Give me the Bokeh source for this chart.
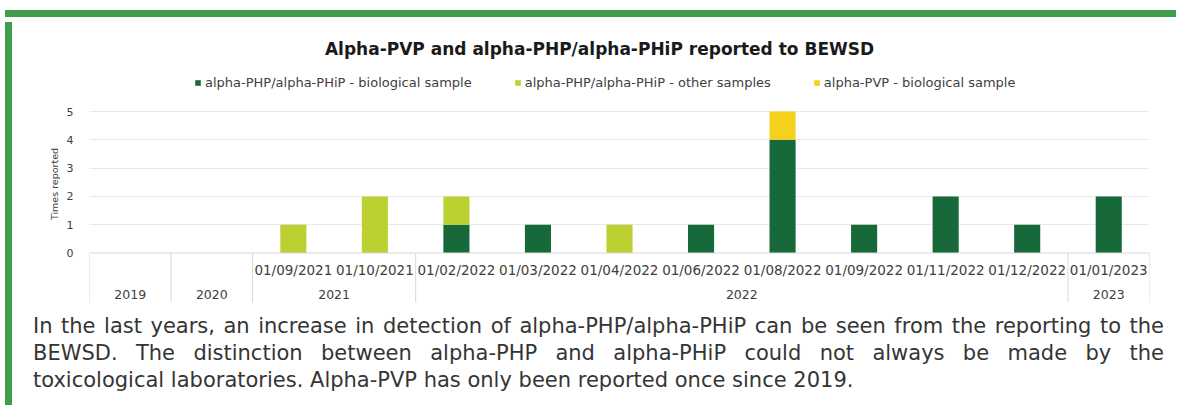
from bokeh.plotting import figure
from bokeh.models import (ColumnDataSource, FactorRange, Range1d, FixedTicker,
                          Legend, LegendItem, Label, Div)
from bokeh.layouts import column, row
from bokeh.embed import file_html
from bokeh.resources import INLINE
from bokeh.core.properties import value

# ---------------- data ----------------
years = ["2019", "2020", "2021", "2021", "2022", "2022", "2022", "2022",
         "2022", "2022", "2022", "2022", "2023"]
dates = ["", "", "01/09/2021", "01/10/2021", "01/02/2022", "01/03/2022",
         "01/04/2022", "01/06/2022", "01/08/2022", "01/09/2022", "01/11/2022",
         "01/12/2022", "01/01/2023"]
php_bio = [0, 0, 0, 0, 1, 1, 0, 1, 4, 1, 2, 1, 2]
php_other = [0, 0, 1, 2, 1, 0, 1, 0, 0, 0, 0, 0, 0]
pvp_bio = [0, 0, 0, 0, 0, 0, 0, 0, 1, 0, 0, 0, 0]
series_labels = ["alpha-PHP/alpha-PHiP - biological sample",
                 "alpha-PHP/alpha-PHiP - other samples",
                 "alpha-PVP - biological sample"]
y_ticks = [0, 1, 2, 3, 4, 5]
title_text = "Alpha-PVP and alpha-PHP/alpha-PHiP reported to BEWSD"
y_label = "Times reported"
paragraph_lines = [
    "In the last years, an increase in detection of alpha-PHP/alpha-PHiP can be seen from the reporting to the",
    "BEWSD. The distinction between alpha-PHP and alpha-PHiP could not always be made by the",
    "toxicological laboratories. Alpha-PVP has only been reported once since 2019.",
]

# ---------------- styles ----------------
GREEN_FRAME = "#3f9d4b"
C_BIO = "#17693a"
C_OTHER = "#bdd031"
C_PVP = "#f4d21c"
TXT = "#404040"
FONT = "DejaVu Sans"

factors = list(zip(years, dates))
src = ColumnDataSource(dict(x=factors, php_bio=php_bio, php_other=php_other,
                            pvp_bio=pvp_bio, date=dates))

FIG_W, FIG_H = 1164, 290
x_range = FactorRange(factors=factors, group_padding=0, subgroup_padding=0,
                      factor_padding=0, range_padding=0)
y_range = Range1d(-1.926, 8.322)

p = figure(width=FIG_W, height=FIG_H, x_range=x_range, y_range=y_range,
           output_backend="svg", toolbar_location=None, x_axis_location=None,
           min_border_left=72, min_border_right=32, min_border_top=0,
           min_border_bottom=0, background_fill_color="white",
           border_fill_color="white", outline_line_color=None)
p.title.text = ""

# y axis
yax = p.yaxis[0]
yax.ticker = FixedTicker(ticks=y_ticks)
yax.axis_line_color = None
yax.major_tick_line_color = None
yax.minor_tick_line_color = None
yax.major_label_text_font = FONT
yax.major_label_text_font_size = "11px"
yax.major_label_text_color = TXT
yax.major_label_standoff = 10

p.xgrid.visible = False
p.ygrid.ticker = FixedTicker(ticks=[t for t in y_ticks if t > 0])
p.ygrid.grid_line_color = "#e9e9e9"
p.ygrid.grid_line_width = 1

# bars
rs = p.vbar_stack(["php_bio", "php_other", "pvp_bio"], x="x", width=0.32,
                  fill_color=[C_BIO, C_OTHER, C_PVP], line_color=None, source=src)

# category table below the bars
n = len(factors)
bounds = [0] + [i for i in range(1, n) if years[i] != years[i - 1]] + [n]
table_bottom = -1.75
p.segment(x0=bounds, y0=[0] * len(bounds), x1=bounds, y1=[table_bottom] * len(bounds),
          line_color="#d9d9d9", line_width=1)
p.segment(x0=[0], y0=[0], x1=[n], y1=[0], line_color="#d9d9d9", line_width=1)

p.text(x="x", y=-0.618, text="date", source=src, text_font=value(FONT),
       text_font_size="13.5px", text_color=TXT, text_align="center",
       text_baseline="middle")

uniq_years = []
for y in years:
    if y not in uniq_years:
        uniq_years.append(y)
year_centers = []
for y in uniq_years:
    idx = [i for i, v in enumerate(years) if v == y]
    year_centers.append((idx[0] + idx[-1] + 1) / 2)
p.text(x=year_centers, y=[-1.466] * len(uniq_years), text=uniq_years,
       text_font=value(FONT), text_font_size="12.5px", text_color=TXT,
       text_align="center", text_baseline="middle")

# title
p.add_layout(Label(x=6.255, y=7.225, text=title_text, text_font=FONT,
                   text_font_size="17px", text_font_style="bold",
                   text_color="#1a1a1a", text_align="center",
                   text_baseline="middle"))

# legend
legend = Legend(items=[LegendItem(label=series_labels[i], renderers=[rs[i]])
                       for i in range(3)],
                location=(105, 217), orientation="horizontal",
                glyph_width=7, glyph_height=7, label_standoff=4, spacing=42,
                padding=0, margin=0, border_line_color=None,
                background_fill_alpha=0, label_text_font=FONT,
                label_text_font_size="13px", label_text_color=TXT)
p.add_layout(legend)

# ---------------- frame and paragraph ----------------
top_bar = Div(text=f'<div style="width:1171px;height:7px;background:{GREEN_FRAME}"></div>',
              width=1171, height=7)
left_bar = Div(text=f'<div style="width:7px;height:390px;background:{GREEN_FRAME}"></div>',
               width=7, height=382)

# rotated y-axis title, positioned (relative to the text block) beside the 0-5 band
ylab_html = (f'<span style="position:absolute;left:32px;top:-128px;'
             f'transform:translate(-50%,-50%) rotate(-90deg);white-space:nowrap;'
             f'font-family:\'{FONT}\';font-size:9.5px;line-height:11px;color:{TXT};'
             f'text-align:left;">{y_label}</span>')

lines_html = ""
for i, line in enumerate(paragraph_lines):
    align = "text-align:justify;text-align-last:justify;" if i < len(paragraph_lines) - 1 else "text-align:left;"
    lines_html += f'<div style="{align}">{line}</div>'
para = Div(text=(f'<div style="position:relative;font-family:\'{FONT}\';font-size:21px;line-height:27px;'
                 f'color:#353535;padding:1px 22px 0 11px;box-sizing:border-box;'
                 f'width:{FIG_W}px;">{ylab_html}{lines_html}</div>'),
           width=FIG_W, height=92)

page = column(top_bar, row(left_bar, column(p, para, spacing=0), spacing=0), spacing=0)

open("out.html", "w").write(file_html(page, INLINE))
